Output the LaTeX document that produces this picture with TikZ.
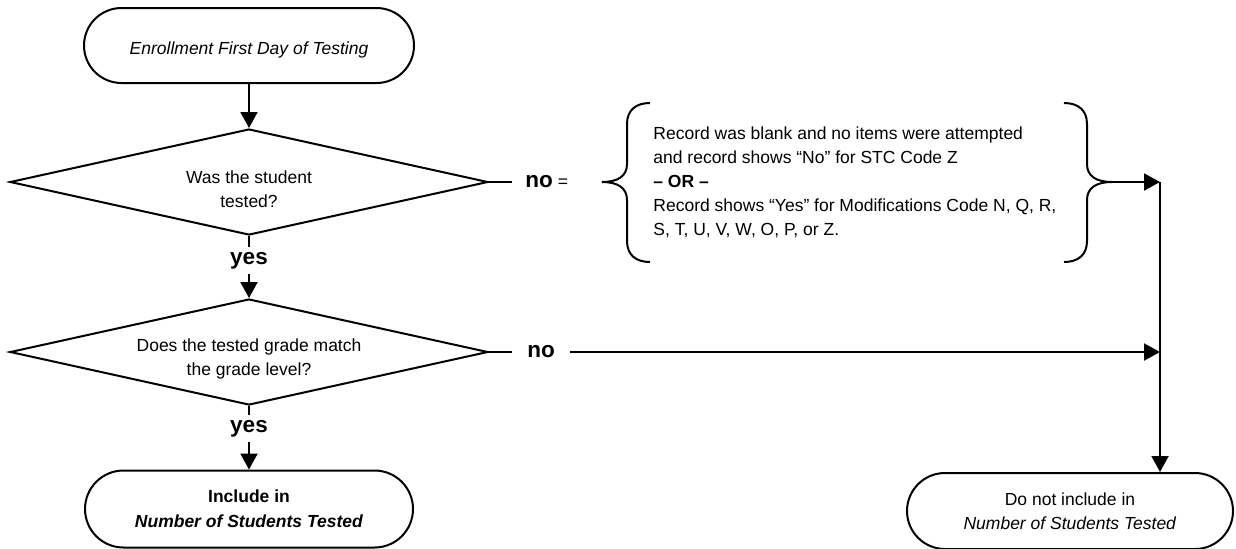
\documentclass[tikz,border=0pt]{standalone}
\usepackage{fontspec}
\setmainfont{Liberation Sans}
\usetikzlibrary{shapes.geometric,shapes.misc,arrows.meta}
\begin{document}
\begin{tikzpicture}[x=0.5pt,y=-0.5pt,
  every node/.style={font=\fontsize{8.75pt}{12pt}\selectfont, inner sep=0pt},
  ln/.style={line width=1pt},
  arr/.style={line width=1pt,-{Triangle[length=8pt,width=8.5pt]}},
  brc/.style={line width=1pt},
  term/.style={rounded rectangle, draw, line width=1pt, align=center},
  dec/.style={diamond, draw, line width=1pt, aspect=4.5, minimum width=239pt, minimum height=53pt, align=center},
  dectext/.style={label={[align=center, yshift=-3.5pt]center:#1}},
  lbl/.style={font=\fontsize{11.25pt}{12pt}\selectfont\bfseries},
  yesl/.style={lbl, inner xsep=0pt, inner ysep=2.2pt}
]
\useasboundingbox (0,0) rectangle (1236,548);

% nodes
\node[term, minimum width=165pt, minimum height=37.5pt,
      label={[yshift=-2pt, font=\fontsize{8.75pt}{12pt}\selectfont\itshape]center:Enrollment First Day of Testing}] (start) at (249,45.5) {};
\node[dec, dectext={Was the student\\tested?}] (d1) at (249,182) {};
\node[dec, dectext={Does the tested grade match\\the grade level?}] (d2) at (249,352) {};
\node[yesl] (y1) at (249,260.5) {yes};
\node[yesl] (y2) at (249,428.5) {yes};
\node[term, minimum width=164pt, minimum height=38.5pt, font=\fontsize{8.75pt}{12.5pt}\selectfont\bfseries] (inc) at (249,509) {Include in\\\textit{Number of Students Tested}};
\node[term, minimum width=163pt, minimum height=38pt, font=\fontsize{8.75pt}{12pt}\selectfont] (noinc) at (1070,511) {Do not include in\\\textit{Number of Students Tested}};
\node[anchor=west, inner xsep=6.5pt] (no1) at (512,182) {{\fontsize{11.25pt}{12pt}\selectfont\bfseries no}\hspace{2.5pt}=};
\node[lbl, anchor=west, inner xsep=7.5pt] (no2) at (512,352) {no};
\node[anchor=west, align=left] (cond) at (653,182) {Record was blank and no items were attempted\\and record shows “No” for STC Code Z\\\textbf{– OR –}\\Record shows “Yes” for Modifications Code N, Q, R,\\S, T, U, V, W, O, P, or Z.};
\coordinate (bl) at (602,182);
\coordinate (br) at (1112,182);
\coordinate (j1) at (1160,182);
\coordinate (j2) at (1160,352);

% braces
\draw[brc] (650,103) .. controls (636,103) and (627,110) .. (627,124) -- (627,164) .. controls (627,176) and (618,182) .. (bl) .. controls (618,182) and (627,188) .. (627,200) -- (627,241) .. controls (627,255) and (636,262) .. (650,262);
\draw[brc] (1064,103) .. controls (1078,103) and (1087,110) .. (1087,124) -- (1087,164) .. controls (1087,176) and (1096,182) .. (br) .. controls (1096,182) and (1087,188) .. (1087,200) -- (1087,241) .. controls (1087,255) and (1078,262) .. (1064,262);

% connectors
\draw[arr] (start.south) -- (d1.north);
\draw[ln] (d1.south) -- (y1.north);
\draw[arr] (y1.south) -- (d2.north);
\draw[ln] (d2.south) -- (y2.north);
\draw[arr] (y2.south) -- (inc.north);
\draw[ln] (d1.east) -- (no1.west);
\draw[ln] (d2.east) -- (no2.west);
\draw[arr] (no2.east) -- (j2);
\draw[arr] (br) -- (j1);
\draw[arr] (j1) -- (j1 |- noinc.north);
\end{tikzpicture}
\end{document}
